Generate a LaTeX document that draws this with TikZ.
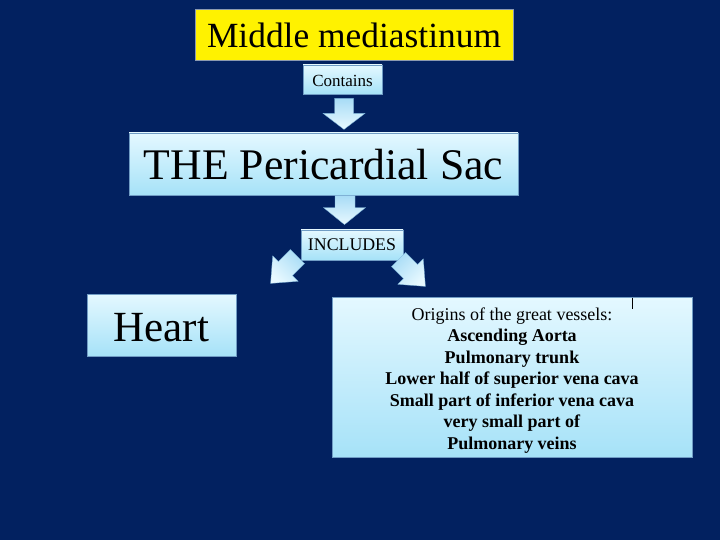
\documentclass[tikz,border=0pt]{standalone}
\usepackage{fontspec}
\setmainfont{Liberation Serif}
\definecolor{bgnavy}{RGB}{2,33,96}
\definecolor{boxtop}{RGB}{228,248,255}
\definecolor{boxbot}{RGB}{166,226,248}
\definecolor{boxborder}{RGB}{112,156,196}
\definecolor{titleborder}{RGB}{140,154,176}
\definecolor{arrtop}{RGB}{168,220,246}
\definecolor{arrbot}{RGB}{232,249,255}
\definecolor{arrborder}{RGB}{120,176,214}
\begin{document}
\begin{tikzpicture}[x=1pt,y=-1pt,
  box/.style={draw=boxborder, line width=0.8pt, top color=boxtop, bottom color=boxbot, inner sep=0pt, text=black},
  titlebox/.style={draw=titleborder, line width=0.8pt, fill=yellow, inner sep=0pt, text=black},
  downarrow/.style={draw=arrborder, line width=0.3pt, top color=arrtop, bottom color=arrbot},
  diagarrow/.style={draw=arrborder, line width=0.3pt, top color=arrtop, bottom color=arrbot, shading angle=#1}]
\fill[bgnavy] (0,0) rectangle (720,540);
\useasboundingbox (0,0) rectangle (720,540);

\node[titlebox, minimum width=318, minimum height=51, font=\fontsize{35.4}{40}\selectfont] (title) at (354,35) {Middle mediastinum};
\node[box, minimum width=79, minimum height=29, text height=15, text depth=0, font=\fontsize{17}{20}\selectfont] (contains) at (342.5,79.5) {Contains};
\node[box, minimum width=389, minimum height=62, text height=31, text depth=0, font=\fontsize{43.7}{48}\selectfont] (sac) at (323.5,164) {THE Pericardial Sac};
\node[box, minimum width=102, minimum height=30, font=\fontsize{17.8}{20}\selectfont] (inc) at (352,245) {INCLUDES};
\node[box, minimum width=149, minimum height=62, text height=32, text depth=0, font=\fontsize{43}{46}\selectfont] (heart) at (161.5,325) {Heart};
\node[box, minimum width=360, minimum height=160, align=center, font=\fontsize{18}{21.5}\selectfont] (rbox) at (512,377)
 {\rule{0pt}{19pt}Origins of the great vessels:\\ \textbf{Ascending Aorta}\\ \textbf{Pulmonary trunk}\\ \textbf{Lower half of superior vena cava}\\ \textbf{Small part of inferior vena cava}\\ \textbf{very small part of}\\ \textbf{Pulmonary veins}};

% down arrow: Contains -> Sac
\begin{scope}[shift={(contains.south)}]
\path[downarrow] (-8,4) -- (11,4) -- (11,19) -- (22.5,19) -- (1.5,35) -- (-19.5,19) -- (-8,19) -- cycle;
\end{scope}
% down arrow: Sac -> INCLUDES
\begin{scope}[shift={(inc.north)}]
\path[downarrow] (-17,-34) -- (3,-34) -- (3,-22) -- (13.5,-22) -- (-7.5,-5) -- (-28.5,-22) -- (-17,-22) -- cycle;
\end{scope}
% diagonal arrow: INCLUDES -> Heart
\begin{scope}[shift={(inc.south west)}]
\path[diagarrow=-45] (4.0,3.2) -- (-8.1,15.2) -- (-2.4,20.9) -- (-30,23) -- (-27.9,-4.6) -- (-22.2,1.1) -- (-10.2,-10.9) -- cycle;
\end{scope}
% diagonal arrow: INCLUDES -> great vessels
\begin{scope}[shift={(inc.south east)}]
\path[diagarrow=45] (2.2,-8.0) -- (14.2,4.1) -- (19.9,-1.6) -- (22,26) -- (-5.6,23.9) -- (0.1,18.2) -- (-12,6.2) -- cycle;
\end{scope}
% text cursor mark
\draw[black, line width=1pt] ([shift={(-60,1)}]rbox.north east) -- ([shift={(-60,12)}]rbox.north east);
\end{tikzpicture}
\end{document}
